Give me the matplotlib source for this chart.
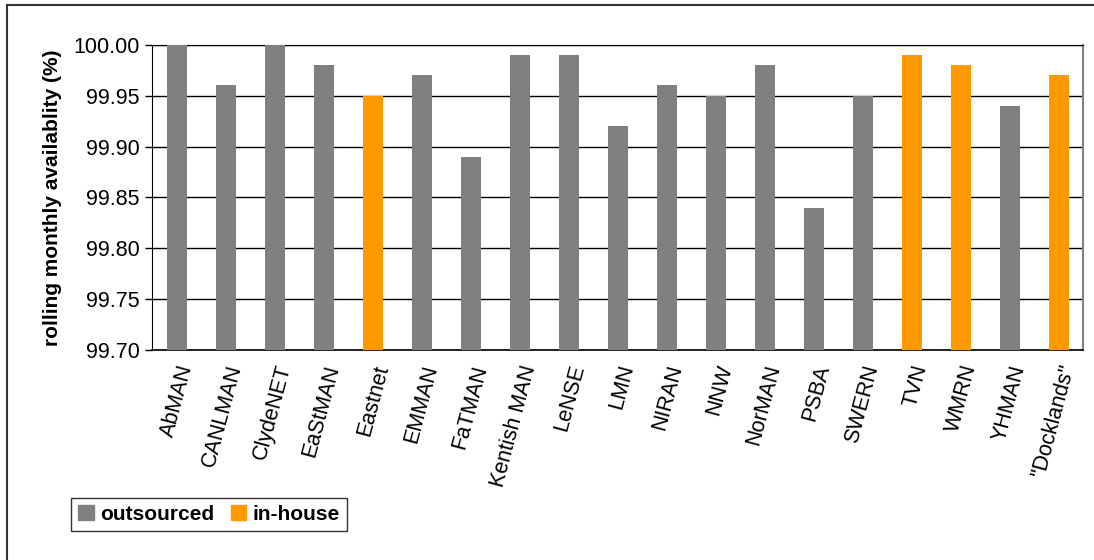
import matplotlib
matplotlib.use("Agg")
import matplotlib.pyplot as plt
from matplotlib.lines import Line2D
from matplotlib.patches import Patch

plt.rcParams['font.family'] = ['Liberation Sans', 'DejaVu Sans']

networks = ["AbMAN", "CANLMAN", "ClydeNET", "EaStMAN", "Eastnet", "EMMAN", "FaTMAN",
            "Kentish MAN", "LeNSE", "LMN", "NIRAN", "NNW", "NorMAN", "PSBA", "SWERN",
            "TVN", "WMRN", "YHMAN", "\"Docklands\""]
availability = [100.00, 99.96, 100.00, 99.98, 99.95, 99.97, 99.89, 99.99, 99.99, 99.92,
                99.96, 99.95, 99.98, 99.84, 99.95, 99.99, 99.98, 99.94, 99.97]
kind = ["out", "out", "out", "out", "in", "out", "out", "out", "out", "out",
        "out", "out", "out", "out", "out", "in", "in", "out", "in"]
yticks = [99.70, 99.75, 99.80, 99.85, 99.90, 99.95, 100.00]

gray = "#808080"
orange = "#FF9900"
colors = [orange if k == "in" else gray for k in kind]

fig = plt.figure(figsize=(10.94, 5.60), dpi=100)
ax = fig.add_axes([0.139, 0.375, 0.851, 0.545])

x = range(len(networks))
ax.bar(x, [v - 99.70 for v in availability], bottom=99.70, width=0.41, color=colors, zorder=3)

ax.set_xlim(-0.5, len(networks) - 0.5)
ax.set_ylim(99.70, 100.00)
ax.set_yticks(yticks)
ax.set_yticklabels(["%.2f" % t for t in yticks], fontsize=15.5)
ax.yaxis.grid(True, color="black", linewidth=1.0, zorder=0)
ax.tick_params(axis="y", length=5, width=1, direction="out", pad=4)
ax.tick_params(axis="x", length=0, pad=9)
ax.set_xticks(list(x))
ax.set_xticklabels(networks, rotation=75, ha="right", va="top", rotation_mode="anchor",
                   fontsize=15.5)
ax.set_ylabel("rolling monthly availablity (%)", fontsize=15, fontweight="bold", labelpad=8)

for s in ["top", "left", "bottom"]:
    ax.spines[s].set_color("black")
ax.spines["right"].set_color(gray)
ax.spines["right"].set_linewidth(1.5)
ax.spines["bottom"].set_linewidth(1.2)

handles = [Patch(color=gray, label="outsourced"), Patch(color=orange, label="in-house")]
leg = fig.legend(handles=handles, loc="lower left", bbox_to_anchor=(0.055, 0.033), ncol=2,
                 frameon=True, fancybox=False, edgecolor="black", handlelength=0.75,
                 handleheight=0.75, handletextpad=0.3, columnspacing=0.8,
                 prop={"weight": "bold", "size": 15}, borderpad=0.35)
leg.get_frame().set_linewidth(1.0)

# outer chart frame (only top and left edges are visible)
fig.add_artist(Line2D([0.0068, 1.0], [0.991, 0.991], transform=fig.transFigure,
                      color="#333333", linewidth=1.5))
fig.add_artist(Line2D([0.0068, 0.0068], [0.0, 0.991], transform=fig.transFigure,
                      color="#333333", linewidth=1.5))

fig.savefig("out.png", dpi=100)
